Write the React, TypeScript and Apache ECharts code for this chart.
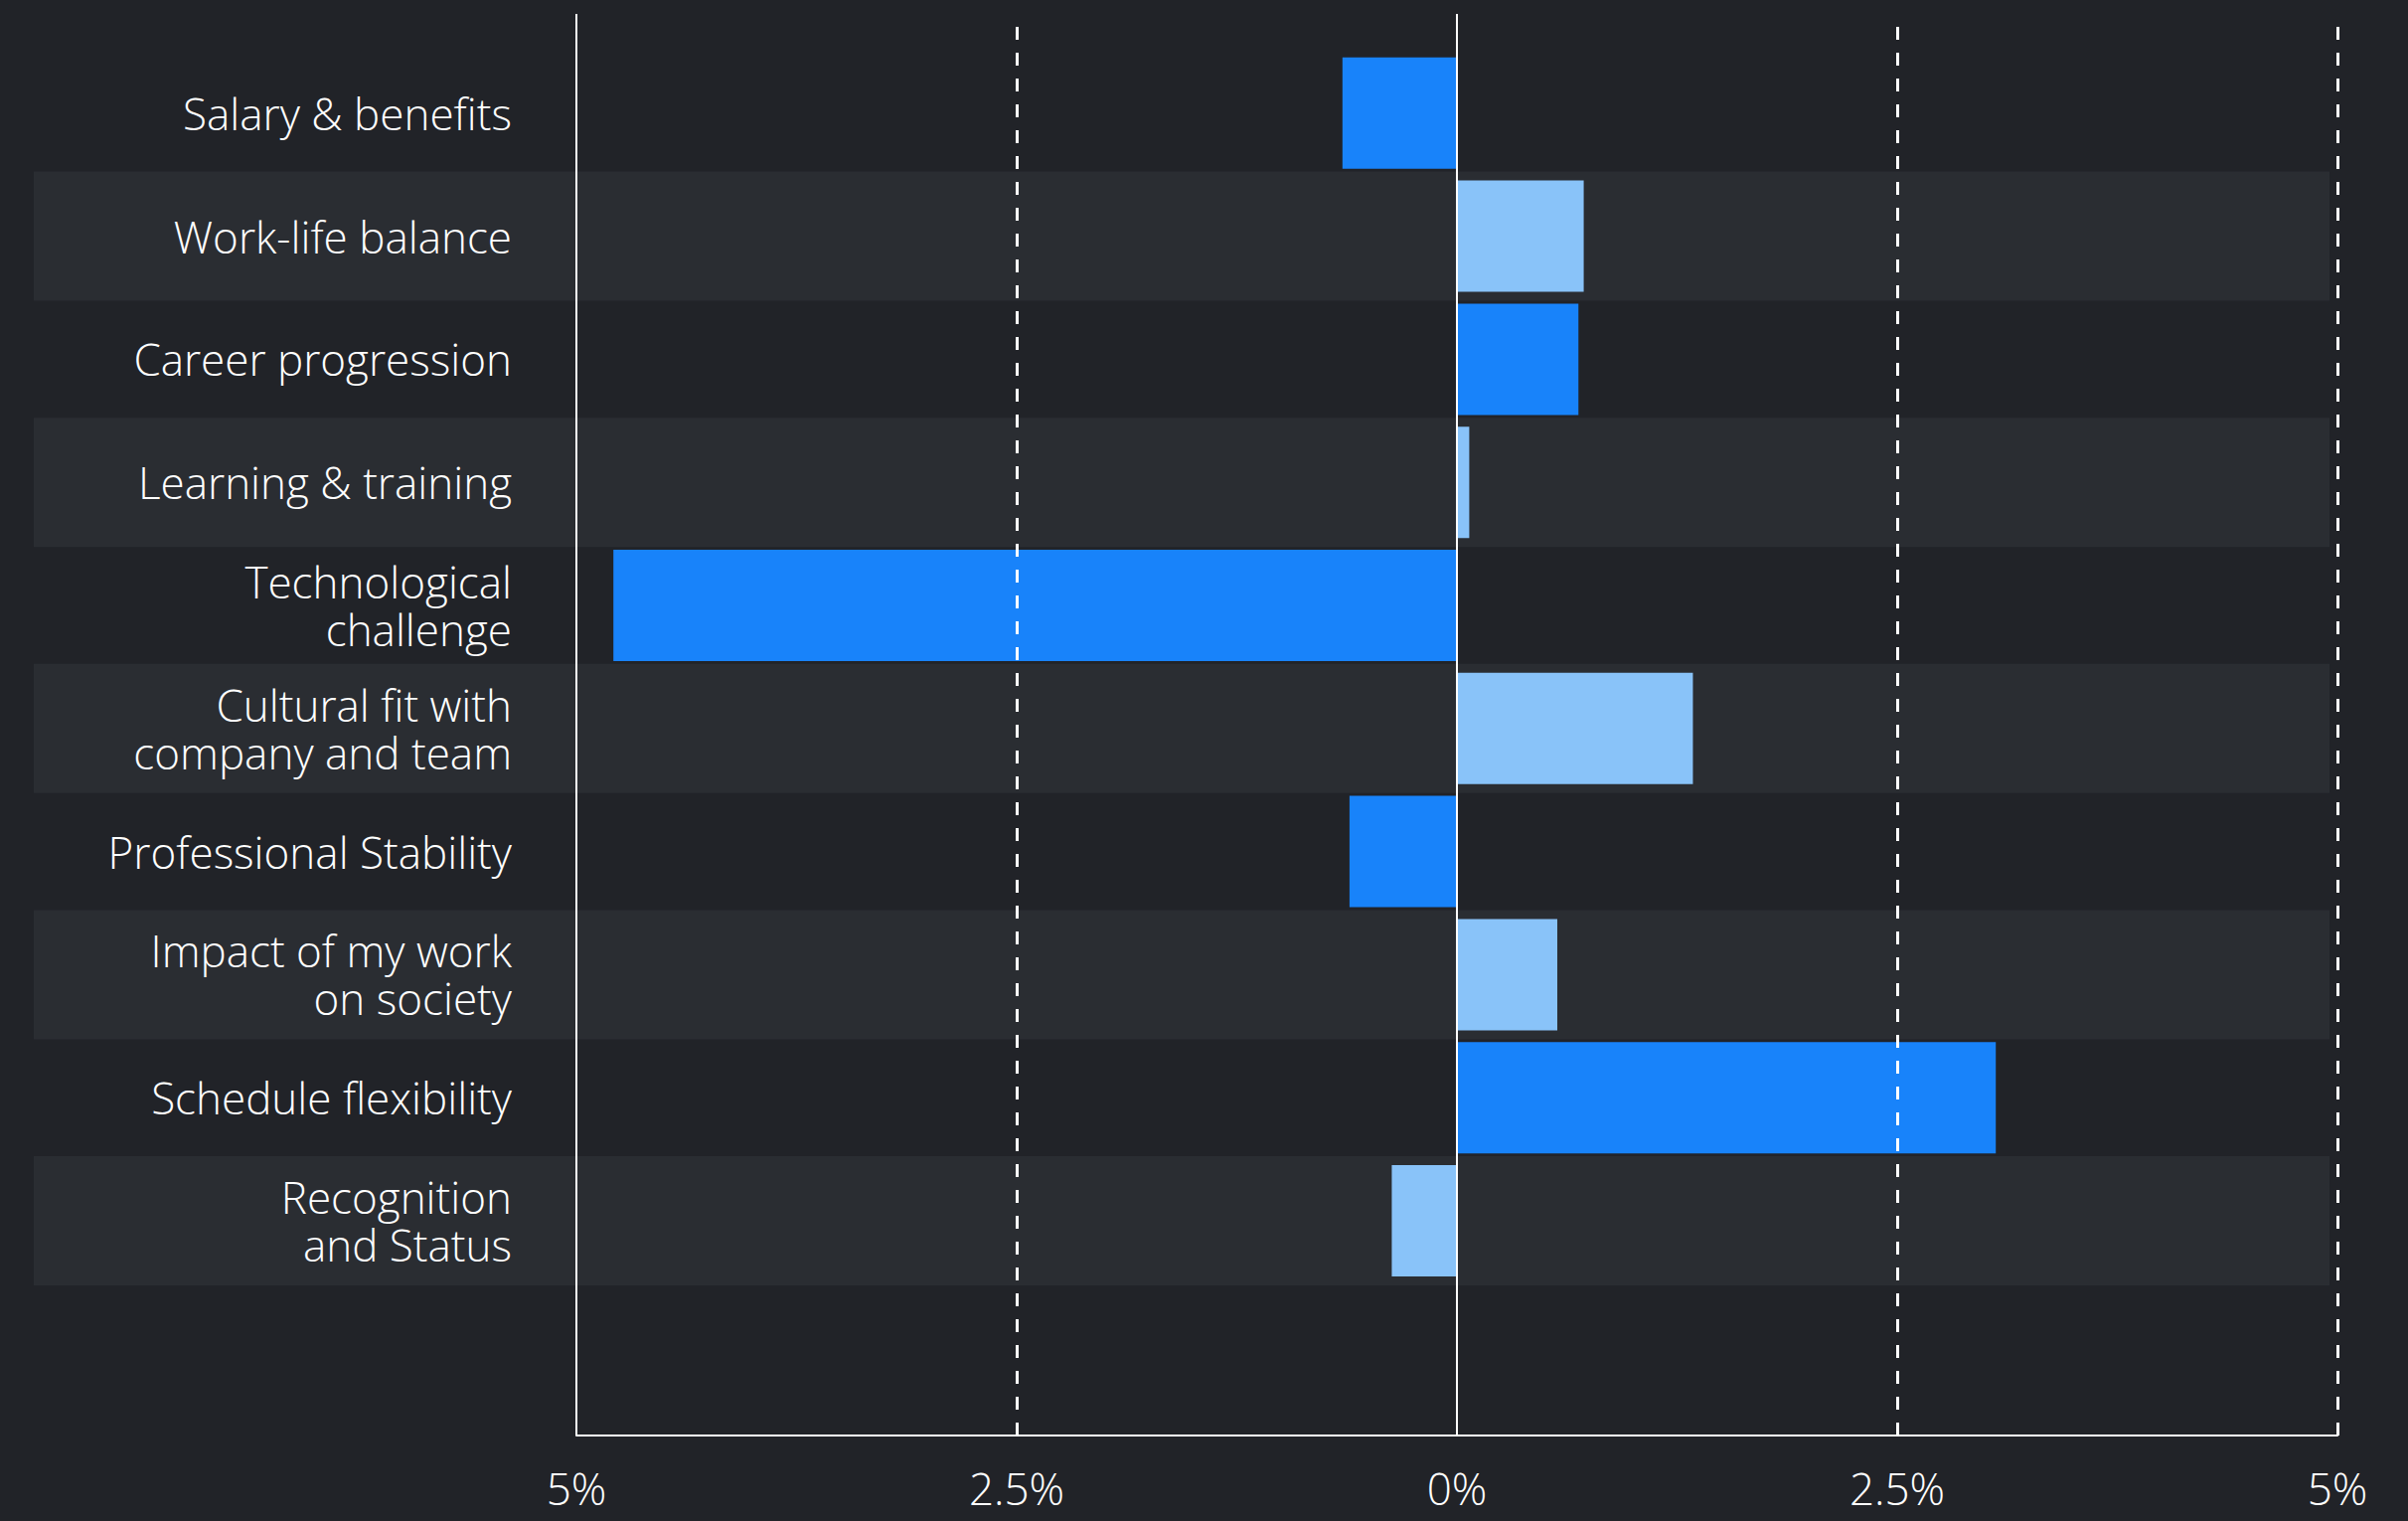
import React, { useEffect, useRef } from "react";
import * as echarts from "echarts";

const categories = [
  "Salary & benefits",
  "Work-life balance",
  "Career progression",
  "Learning & training",
  "Technological\nchallenge",
  "Cultural fit with\ncompany and team",
  "Professional Stability",
  "Impact of my work\non society",
  "Schedule flexibility",
  "Recognition\nand Status",
];
const values = [-0.65, 0.72, 0.69, 0.07, -4.79, 1.34, -0.61, 0.57, 3.06, -0.37];
const barColors = ["#1883fa", "#89c3f9"];
const xTicks = [-5, -2.5, 0, 2.5, 5];
const solidLines = [-5, 0];

const BG = "#212328";
const BAND = "#2a2d32";
const FONT = "'Open Sans', 'Noto Sans', sans-serif";

export default function App() {
  const ref = useRef<HTMLDivElement>(null);

  useEffect(() => {
    if (!ref.current) return;
    const chart = echarts.init(ref.current, undefined, { renderer: "svg" });

    const bandIdx = categories.map((_, i) => i).filter((i) => i % 2 === 1);

    const option: any = {
      animation: false,
      backgroundColor: BG,
      grid: [
        { left: 580, width: 1772, top: 51.9, height: 1238 },
        { left: 580, width: 1772, top: 14, height: 1430 },
      ],
      xAxis: [
        {
          gridIndex: 0,
          type: "value",
          min: -5,
          max: 5,
          interval: 2.5,
          show: false,
          splitLine: { show: false },
        },
        {
          gridIndex: 1,
          type: "value",
          min: -5,
          max: 5,
          interval: 2.5,
          z: 1,
          axisLine: { show: true, lineStyle: { color: "#ffffff", width: 2 } },
          axisTick: { show: false },
          splitLine: { show: false },
          axisLabel: {
            color: "#ffffff",
            fontSize: 44,
            lineHeight: 44,
            fontFamily: FONT,
            fontWeight: 300,
            margin: 31,
            formatter: (v: number) => `${Math.abs(v)}%`,
          },
        },
      ],
      yAxis: [
        {
          gridIndex: 0,
          type: "category",
          data: categories,
          inverse: true,
          z: 5,
          axisLine: { show: false },
          axisTick: { show: false },
          splitLine: { show: false },
          axisLabel: {
            color: "#ffffff",
            fontSize: 44,
            lineHeight: 48,
            fontFamily: FONT,
            fontWeight: 300,
            margin: 65,
            align: "right",
          },
        },
        {
          gridIndex: 1,
          type: "value",
          min: 0,
          max: 1,
          show: false,
        },
      ],
      series: [
        {
          type: "custom",
          xAxisIndex: 0,
          yAxisIndex: 0,
          z: 0,
          silent: true,
          data: bandIdx.map((i) => [i]),
          renderItem: (params: any, api: any) => {
            const idx = api.value(0);
            const c = api.coord([5, idx]);
            const h = api.size([0, 1])[1] * 1.05;
            return {
              type: "rect",
              shape: { x: 34, y: c[1] - h / 2, width: c[0] - 8 - 34, height: h },
              style: { fill: BAND },
            };
          },
        },
        {
          type: "line",
          xAxisIndex: 1,
          yAxisIndex: 1,
          data: [],
          z: 2,
          silent: true,
          markLine: {
            silent: true,
            symbol: ["none", "none"],
            label: { show: false },
            data: xTicks.map((t) => ({
              xAxis: t,
              lineStyle: solidLines.includes(t)
                ? { color: "#ffffff", width: 2, type: "solid" }
                : { color: "#ffffff", width: 3, type: [13, 13] },
            })),
          },
        },
        {
          type: "bar",
          xAxisIndex: 0,
          yAxisIndex: 0,
          z: 3,
          barWidth: 112,
          data: values.map((v, i) => ({
            value: v,
            itemStyle: { color: barColors[i % 2] },
          })),
        },
      ],
    };

    chart.setOption(option);
    return () => chart.dispose();
  }, []);

  return (
    <div
      ref={ref}
      style={{ position: "fixed", left: 0, top: 0, width: 2423, height: 1530 }}
    />
  );
}
